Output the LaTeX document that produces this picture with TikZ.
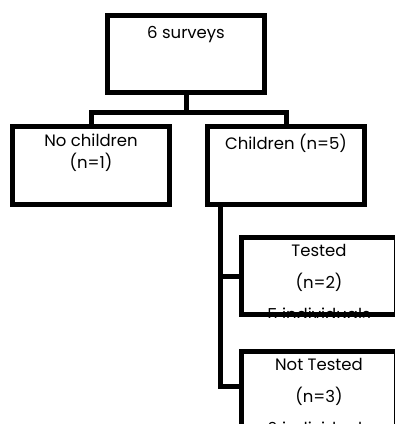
\documentclass[tikz,border=0pt]{standalone}
\usepackage{fontspec}
\setmainfont{Poppins}
\usetikzlibrary{positioning}
\definecolor{ink}{RGB}{0,0,0}
\newcommand{\boxfont}{\fontsize{16.5}{22}\selectfont}
\newcommand{\leaffont}{\fontsize{16.5}{32}\selectfont}
\tikzset{
  every picture/.style={x=1pt, y=-1pt, color=ink, line width=5pt, line join=miter},
  box/.style={draw=ink, line width=5pt, inner sep=0pt, minimum width=157pt, minimum height=78pt},
  leaf/.style={box, minimum width=155pt, minimum height=77pt},
  txt/.style={font=\boxfont, align=center, inner sep=0pt, text=ink},
  leaftxt/.style={txt, font=\leaffont},
  link/.style={draw=ink, line width=5pt},
}

\begin{document}
\begin{tikzpicture}
  \useasboundingbox (0,0) rectangle (395,424);
  % survey split: with / without children, then tested / not tested
  \node[box, minimum height=77pt] (survey) at (186,54) {};
  \node[box] (nokids) at (91,165.5) {};
  \node[box, right=33pt of nokids] (kids) {};
  \node[leaf] (tested) at (319,276) {};
  \node[leaf, minimum height=75pt, below=32pt of tested] (untested) {};

  \node[txt, below=11pt of survey.north] (surveytxt) {6 surveys};
  \node[txt, below=7pt of nokids.north] (nokidstxt) {No children\\(n=1)};
  \node[txt, below=8pt of kids.north] (kidstxt) {Children (n=5)};
  \begin{scope}
    \clip (tested.south west) rectangle (tested.north east);
    \node[leaftxt, below=7pt of tested.north] (testedtxt) {Tested\\(n=2)\\5 individuals};
  \end{scope}
  \begin{scope}
    \clip (untested.south west) rectangle (untested.north east);
    \node[leaftxt, below=7pt of untested.north] (untestedtxt) {Not Tested\\(n=3)\\6 individuals};
  \end{scope}

  \draw[link] (survey.south) -- ++(0,17) coordinate (fork);
  \draw[link] (nokids.north) |- (fork) -| (kids.north);
  \coordinate (trunk) at ([xshift=15pt]kids.south west);
  \draw[link] (trunk) |- (tested.west);
  \draw[link] (trunk) |- ([yshift=3pt]untested.west);
\end{tikzpicture}
\end{document}
